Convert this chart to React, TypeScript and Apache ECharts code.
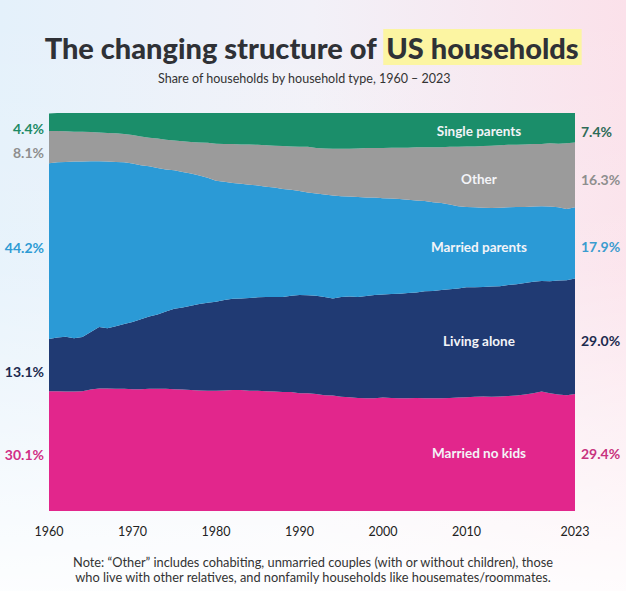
import React, { useEffect, useRef } from "react";
import * as echarts from "echarts";

const years = [
  "1960","1961","1962","1963","1964","1965","1966","1967","1968","1969",
  "1970","1971","1972","1973","1974","1975","1976","1977","1978","1979",
  "1980","1981","1982","1983","1984","1985","1986","1987","1988","1989",
  "1990","1991","1992","1993","1994","1995","1996","1997","1998","1999",
  "2000","2001","2002","2003","2004","2005","2006","2007","2008","2009",
  "2010","2011","2012","2013","2014","2015","2016","2017","2018","2019",
  "2020","2021","2022","2023",
];

const shownYears = ["1960", "1970", "1980", "1990", "2000", "2010", "2023"];

const marriedNoKids = [
  30.1, 30.1, 30.0, 30.0, 30.1, 30.5, 30.8, 30.8, 30.7, 30.7,
  30.6, 30.6, 30.7, 30.7, 30.7, 30.6, 30.5, 30.4, 30.3, 30.2,
  30.2, 30.3, 30.4, 30.4, 30.2, 30.2, 30.1, 30.0, 29.9, 29.9,
  29.6, 29.6, 29.4, 29.1, 29.0, 28.7, 28.6, 28.4, 28.3, 28.3,
  28.5, 28.4, 28.3, 28.3, 28.4, 28.3, 28.3, 28.3, 28.4, 28.5,
  28.6, 28.7, 28.8, 28.7, 28.8, 28.9, 29.0, 29.3, 29.6, 30.0,
  29.6, 29.3, 29.1, 29.4,
];

const livingAlone = [
  13.1, 13.5, 13.8, 13.4, 13.6, 14.5, 15.4, 15.1, 15.7, 16.3,
  16.9, 17.6, 18.2, 18.7, 19.4, 20.2, 20.6, 21.2, 21.7, 22.1,
  22.4, 22.7, 22.9, 23.0, 23.3, 23.5, 23.7, 23.8, 23.9, 24.2,
  24.7, 24.6, 24.7, 24.7, 24.4, 25.1, 25.3, 25.4, 25.7, 26.0,
  25.9, 26.1, 26.3, 26.5, 26.5, 26.9, 27.0, 27.2, 27.3, 27.4,
  27.6, 27.5, 27.5, 27.7, 27.7, 27.9, 28.0, 28.0, 28.0, 27.8,
  28.1, 28.6, 28.9, 29.0,
];

const marriedParents = [
  44.2, 44.0, 43.9, 44.4, 44.1, 42.9, 41.7, 41.9, 41.3, 40.6,
  39.8, 38.7, 37.7, 36.8, 35.7, 34.8, 34.1, 33.2, 32.3, 31.4,
  30.4, 29.7, 29.1, 28.8, 28.5, 28.1, 27.7, 27.5, 27.1, 26.6,
  26.1, 25.8, 25.7, 25.7, 25.9, 25.3, 25.1, 25.1, 24.8, 24.5,
  24.2, 24.0, 23.8, 23.4, 23.1, 22.7, 22.3, 21.9, 21.3, 20.7,
  20.2, 20.1, 19.9, 19.7, 19.7, 19.5, 19.4, 19.1, 18.9, 18.8,
  18.8, 18.4, 17.9, 17.9,
];

const other = [
  8.1, 7.9, 7.7, 7.5, 7.5, 7.3, 7.2, 7.2, 7.2, 7.1,
  7.2, 7.2, 7.2, 7.4, 7.5, 7.5, 7.7, 7.9, 8.3, 8.8,
  9.3, 9.5, 9.8, 9.9, 10.1, 10.2, 10.4, 10.5, 10.8, 10.9,
  11.1, 11.5, 11.4, 11.6, 11.7, 11.9, 12.0, 12.2, 12.4, 12.4,
  12.6, 12.8, 12.9, 13.1, 13.4, 13.5, 13.8, 14.0, 14.5, 14.9,
  15.2, 15.3, 15.5, 15.7, 15.7, 15.7, 15.6, 15.7, 15.7, 15.6,
  15.9, 16.0, 16.5, 16.3,
];

const singleParents = [
  4.4, 4.5, 4.6, 4.7, 4.7, 4.8, 4.9, 5.0, 5.1, 5.3,
  5.5, 5.9, 6.2, 6.4, 6.7, 6.9, 7.1, 7.3, 7.4, 7.5,
  7.7, 7.8, 7.8, 7.9, 7.9, 8.0, 8.1, 8.2, 8.3, 8.4,
  8.5, 8.5, 8.8, 8.9, 9.0, 9.0, 9.0, 8.9, 8.8, 8.8,
  8.8, 8.7, 8.7, 8.7, 8.6, 8.6, 8.6, 8.6, 8.5, 8.5,
  8.4, 8.4, 8.3, 8.2, 8.1, 8.0, 8.0, 7.9, 7.8, 7.8,
  7.6, 7.7, 7.6, 7.4,
];

const seriesNames = ["Married no kids", "Living alone", "Married parents", "Other", "Single parents"];
const seriesData = [marriedNoKids, livingAlone, marriedParents, other, singleParents];
const fillColors = ["#e2268c", "#203a73", "#2b9ad6", "#9b9b9b", "#1b8e6a"];
const leftLabelColors = ["#d12f86", "#1d2b4f", "#2e9bd4", "#8e8e8e", "#1e8a66"];
const rightLabelColors = ["#c8337f", "#1d2b4f", "#3b9ccf", "#8e8e8e", "#2e6b57"];
const leftNudge = [3, 6.5, -4, 5, 7];
const rightNudge = [1, 4.5, 4, 4.4, 3.3];

const FONT = "Lato, 'Noto Sans', sans-serif";

export default function App() {
  const ref = useRef<HTMLDivElement>(null);

  useEffect(() => {
    if (!ref.current) return;
    const chart = echarts.init(ref.current, null, { renderer: "svg" });

    const option: any = {
      animation: false,
      backgroundColor: "transparent",
      textStyle: { fontFamily: FONT },
      title: [
        {
          text: "{a|The changing structure of }{b|US households}",
          left: "center",
          top: 24,
          textStyle: {
            rich: {
              a: { fontFamily: FONT, fontSize: 29, fontWeight: 900, color: "#2f3136", padding: [4, 0, 3, 0] },
              b: {
                fontFamily: FONT,
                fontSize: 29,
                fontWeight: 900,
                color: "#2f3136",
                backgroundColor: "#fcf5a2",
                padding: [4, 3, 3, 3],
              },
            },
          },
        },
        {
          text: "Share of households by household type, 1960 – 2023",
          left: 153,
          top: 67,
          textStyle: { fontFamily: FONT, fontSize: 12.5, fontWeight: 400, color: "#333" },
        },
        {
          text:
            "Note: \u201cOther\u201d includes cohabiting, unmarried couples (with or without children), those\nwho live with other relatives, and nonfamily households like housemates/roommates.",
          left: "center",
          top: 549,
          textStyle: {
            fontFamily: FONT,
            fontSize: 12.8,
            fontWeight: 400,
            color: "#333",
            lineHeight: 15,
            align: "center",
          },
        },
      ],
      grid: { left: 49, right: 51, top: 113, bottom: 80, containLabel: false },
      xAxis: {
        type: "category",
        data: years,
        boundaryGap: false,
        axisLine: { show: false },
        axisTick: { show: false },
        splitLine: { show: false },
        axisLabel: {
          interval: (_i: number, v: string) => shownYears.includes(v),
          margin: 14,
          fontFamily: FONT,
          fontSize: 12.5,
          color: "#222",
        },
      },
      yAxis: { type: "value", min: 0, max: 100, show: false },
      series: seriesNames.map((name, i) => ({
        name,
        type: "line",
        stack: "total",
        data: seriesData[i],
        symbol: "none",
        showSymbol: false,
        lineStyle: { width: 0 },
        areaStyle: { color: fillColors[i], opacity: 1 },
        itemStyle: { color: fillColors[i] },
        silent: true,
        z: 2,
      })),
    };

    chart.setOption(option);

    const last = years.length - 1;
    const toY = (idx: number, v: number) =>
      (chart.convertToPixel({ xAxisIndex: 0, yAxisIndex: 0 }, [idx, v]) as number[])[1];
    const toX = (idx: number) =>
      (chart.convertToPixel({ xAxisIndex: 0, yAxisIndex: 0 }, [idx, 0]) as number[])[0];

    const bandMid = (idx: number, i: number) => {
      let low = 0;
      for (let k = 0; k < i; k++) low += seriesData[k][idx];
      const high = i === seriesData.length - 1 ? 100 : low + seriesData[i][idx];
      return (toY(idx, low) + toY(idx, high)) / 2;
    };

    const x0 = toX(0);
    const x1 = toX(last);
    const idxA = years.indexOf("2011");
    const idxB = years.indexOf("2012");
    const xInner = (toX(idxA) + toX(idxB)) / 2;

    const graphics: any[] = [];
    seriesNames.forEach((name, i) => {
      const yl = bandMid(0, i) + leftNudge[i];
      const yr = bandMid(last, i) + rightNudge[i];
      graphics.push({
        type: "text",
        x: x0 - 5,
        y: yl,
        z: 100,
        style: {
          text: seriesData[i][0].toFixed(1) + "%",
          fill: leftLabelColors[i],
          font: `bold 14px ${FONT}`,
          align: "right",
          verticalAlign: "middle",
        },
        silent: true,
      });
      graphics.push({
        type: "text",
        x: x1 + 6,
        y: yr,
        z: 100,
        style: {
          text: seriesData[i][last].toFixed(1) + "%",
          fill: rightLabelColors[i],
          font: `bold 14px ${FONT}`,
          align: "left",
          verticalAlign: "middle",
        },
        silent: true,
      });
      graphics.push({
        type: "text",
        x: xInner,
        y: yr,
        z: 100,
        style: {
          text: name,
          fill: "#f3f4f8",
          font: `bold 13.5px ${FONT}`,
          align: "center",
          verticalAlign: "middle",
        },
        silent: true,
      });
    });

    chart.setOption({ graphic: { elements: graphics } });

    return () => {
      chart.dispose();
    };
  }, []);

  return (
    <div
      style={{
        position: "absolute",
        left: 0,
        top: 0,
        width: 626,
        height: 591,
        background:
          "linear-gradient(to bottom, rgba(255,255,255,0) 0%, rgba(255,255,255,0.15) 45%, rgba(255,255,255,0.9) 100%), linear-gradient(to right, #e4f1fb 0%, #f2f1f8 50%, #fbe1ea 100%)",
      }}
    >
      <div ref={ref} style={{ width: 626, height: 591 }} />
    </div>
  );
}
